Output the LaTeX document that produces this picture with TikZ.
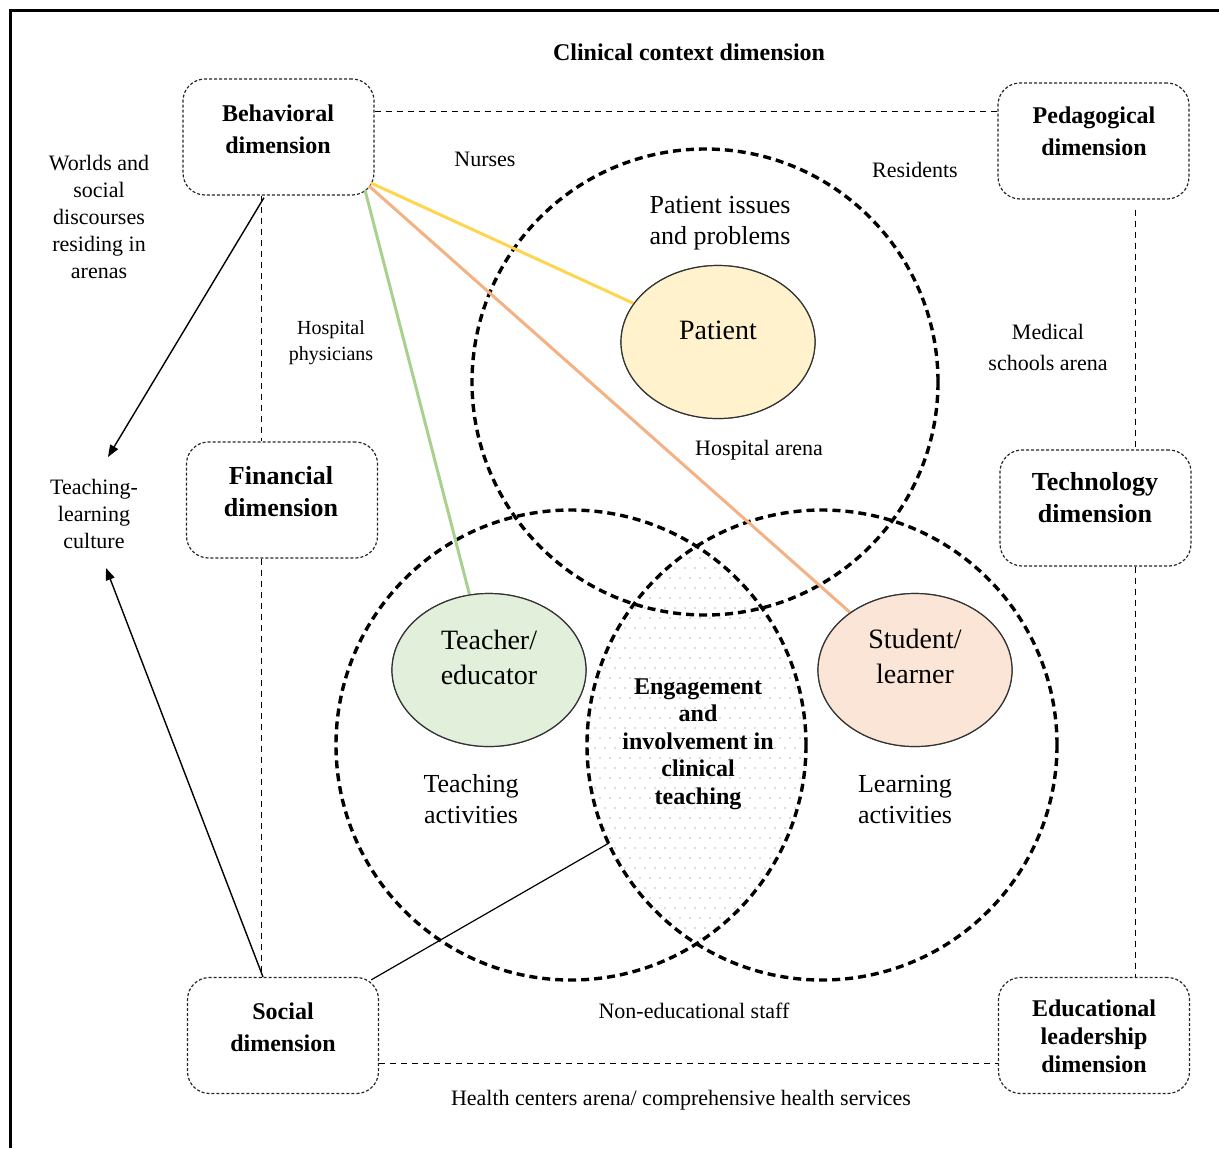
\documentclass[tikz,border=0pt]{standalone}
\usepackage{fontspec}
\setmainfont{Liberation Serif}
\usetikzlibrary{shapes.geometric,arrows.meta}
\definecolor{patfill}{HTML}{FFF2CC}
\definecolor{teafill}{HTML}{E2EFDA}
\definecolor{stufill}{HTML}{FBE5D6}
\definecolor{yelline}{HTML}{FFD54F}
\definecolor{oraline}{HTML}{F4B183}
\definecolor{greline}{HTML}{A9D18E}
\begin{document}
\begin{tikzpicture}[x=0.5pt,y=-0.5pt,
  dimbox/.style={draw=black!85, dash pattern=on 1.5pt off 1pt, line width=0.6pt,
    rounded corners=11pt, minimum width=95.5pt, minimum height=58pt, inner sep=0pt},
  dimtxt/.style={font=\fontsize{12}{16}\selectfont\bfseries, align=center, inner sep=0pt},
  dimtxtbig/.style={font=\fontsize{13}{16}\selectfont\bfseries, align=center, inner sep=0pt},
  conn/.style={draw=black, dash pattern=on 3pt off 2.5pt, line width=0.5pt},
  arena/.style={draw=black, line width=1.7pt, dash pattern=on 4pt off 2.5pt},
  lbl/.style={font=\fontsize{11}{13.4}\selectfont, align=center, inner sep=0pt},
  smalllbl/.style={font=\fontsize{10}{13}\selectfont, align=center, inner sep=0pt},
  midlbl/.style={font=\fontsize{13}{15.5}\selectfont, align=center, inner sep=0pt},
  actor/.style={ellipse, draw=black!80, line width=0.6pt, minimum width=97pt,
    minimum height=76.5pt, inner sep=0pt},
  actortxt/.style={font=\fontsize{14}{17.5}\selectfont, align=center, inner sep=0pt},
  colline/.style={line width=1.5pt},
  arr/.style={draw=black, line width=0.7pt, -{Triangle[length=6pt,width=4.5pt]}},
  plainln/.style={draw=black, line width=0.6pt}
]
\useasboundingbox (0,0) rectangle (1219,1148);

% frame (cropped)
\draw[line width=1.5pt] (10,1148) -- (10,10) -- (1219,10);

% helper coordinates
\coordinate (toprow) at (0,111);
\coordinate (botrow) at (0,1063);
\coordinate (leftcol) at (261,0);
\coordinate (rightcol) at (1135,0);
\coordinate (hospc) at (705,382);
\coordinate (teachc) at (571,745);
\coordinate (learnc) at (822,745);

% title
\node[dimtxt] (title) at (689,52) {Clinical context dimension};

% dimension boxes
\node[dimbox] (beh) at (278.5,137) {};
\node[dimtxt] (behT) at (278,129) {Behavioral\\dimension};
\node[dimbox] (ped) at (1093.5,141) {};
\node[dimtxt] (pedT) at (1094,131) {Pedagogical\\dimension};
\node[dimbox] (fin) at (282,500) {};
\node[dimtxtbig] (finT) at (281,492) {Financial\\dimension};
\node[dimbox] (tech) at (1095.5,508) {};
\node[dimtxtbig] (techT) at (1095,498) {Technology\\dimension};
\node[dimbox] (soc) at (283,1035.5) {};
\node[dimtxt] (socT) at (283,1027) {Social\\dimension};
\node[dimbox] (edu) at (1094,1035.5) {};
\node[font=\fontsize{12}{14}\selectfont\bfseries, align=center, inner sep=0pt] (eduT) at (1094,1036) {Educational\\leadership\\dimension};

% dashed connectors between boxes
\draw[conn] (beh.east |- toprow) -- (ped.west |- toprow);
\draw[conn] (soc.east |- botrow) -- (edu.west |- botrow);
\draw[conn] (beh.south -| leftcol) -- (fin.north -| leftcol);
\draw[conn] (fin.south -| leftcol) -- (soc.north -| leftcol);
\draw[conn] ([yshift=-5pt]ped.south -| rightcol) -- (tech.north -| rightcol);
\draw[conn] (tech.south -| rightcol) -- (edu.north -| rightcol);

% dotted lens
\begin{scope}
  \clip (teachc) circle[radius=235];
  \clip (learnc) circle[radius=235];
  \foreach \yy [count=\i] in {548,558,...,946} {
    \foreach \xx in {580,590,...,815} {
      \fill[black!28] ({\xx+mod(\i,2)*5},\yy) circle[radius=0.85];
    }
  }
\end{scope}

% arena circles
\draw[arena] (hospc) circle[radius=233];
\draw[arena] (teachc) circle[radius=235];
\draw[arena] (learnc) circle[radius=235];

% actor ellipses
\node[actor, fill=patfill] (pat) at (718,342) {};
\node[actor, fill=teafill] (tea) at (489,670) {};
\node[actor, fill=stufill] (stu) at (915,670) {};

% coloured lines from behavioral box
\coordinate (bcy) at (371,183);
\coordinate (bco) at (369,186);
\coordinate (bcg) at (365,190);
\draw[colline, yelline] (bcy) -- (pat);
\draw[colline, oraline] (bco) -- (stu);
\draw[colline, greline] (bcg) -- (tea);
% redraw ellipse outlines over line ends
\node[actor, fill=patfill] at (pat) {};
\node[actor, fill=teafill] at (tea) {};
\node[actor, fill=stufill] at (stu) {};

\node[actortxt] (patT) at ([yshift=6pt]pat.center) {Patient};
\node[actortxt] (teaT) at ([yshift=6.5pt]tea.center) {Teacher/\\educator};
\node[actortxt] (stuT) at ([yshift=7pt]stu.center) {Student/\\learner};

% labels
\node[lbl] (worlds) at (99,217) {Worlds and\\social\\discourses\\residing in\\arenas};
\node[lbl] (tlc) at (94,514) {Teaching-\\learning\\culture};
\node[lbl] (nurses) at (485,159) {Nurses};
\node[lbl] (resid) at (915,170) {Residents};
\node[midlbl] (issues) at (720,223) {Patient issues\\and problems};
\node[smalllbl] (hphys) at (331,343) {Hospital\\physicians};
\node[font=\fontsize{11}{15.5}\selectfont, align=center, inner sep=0pt] (medsch) at (1048,347) {Medical\\schools arena};
\node[lbl] (harena) at (759,450) {Hospital arena};
\node[midlbl] (teachact) at (471,799) {Teaching\\activities};
\node[midlbl] (learnact) at (905,799) {Learning\\activities};
\node[font=\fontsize{12}{13.75}\selectfont\bfseries, align=center, inner sep=0pt] (engage) at (698,744) {Engagement\\and\\involvement in\\clinical\\teaching};
\node[lbl] (nonedu) at (694,1011) {Non-educational staff};
\node[lbl] (health) at (681,1100) {Health centers arena/ comprehensive health services};

% black arrows and line
\coordinate (tip1) at (108,457);
\coordinate (tip2) at (106,568);
\coordinate (lensp) at (609,843);
\draw[arr] ([shift={(3,2)}]beh.south -| leftcol) -- (tip1);
\draw[arr] ([shift={(2,0)}]soc.north -| leftcol) -- (tip2);
\draw[plainln] ([shift={(-8,3)}]soc.north east) -- (lensp);
\end{tikzpicture}
\end{document}
